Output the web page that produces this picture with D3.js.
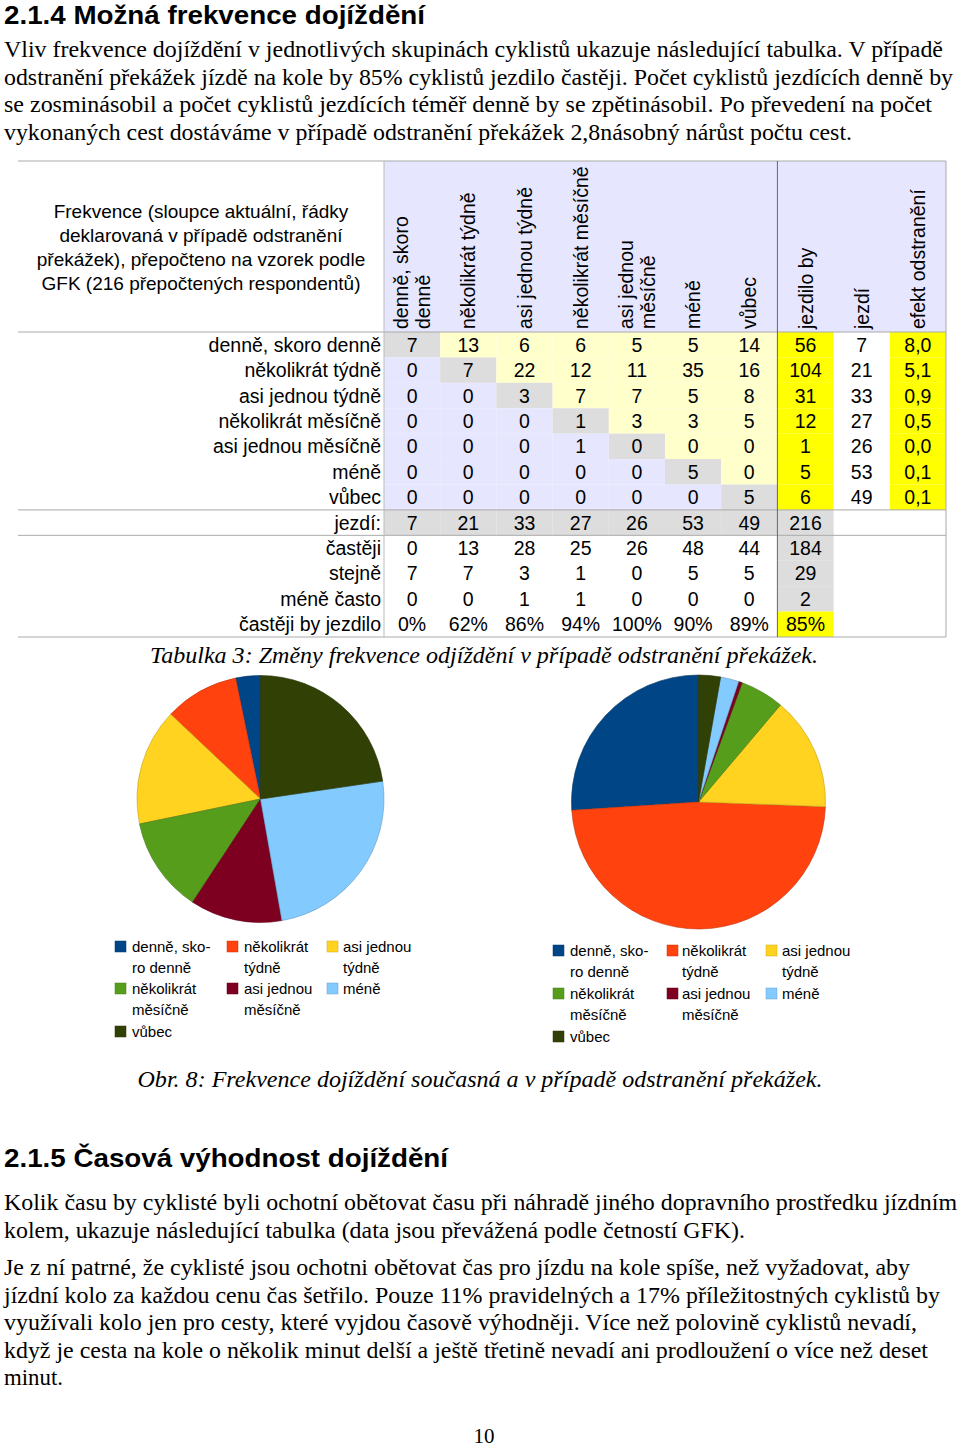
<!DOCTYPE html>
<html><head><meta charset="utf-8">
<script src="https://cdn.jsdelivr.net/npm/d3@7"></script>
<style>body{margin:0;background:#fff}svg{display:block}</style>
</head><body>
<svg id="c" width="960" height="1448"></svg>
<script>
// ---------- DATA ----------
const categories = ["denně, skoro denně","několikrát týdně","asi jednou týdně","několikrát měsíčně","asi jednou měsíčně","méně","vůbec"];
const headerLabels = [["denně, skoro","denně"],["několikrát týdně"],["asi jednou týdně"],["několikrát měsíčně"],["asi jednou","měsíčně"],["méně"],["vůbec"],["jezdilo by"],["jezdí"],["efekt odstranění"]];
const matrix = [
  [7,13,6,6,5,5,14],
  [0,7,22,12,11,35,16],
  [0,0,3,7,7,5,8],
  [0,0,0,1,3,3,5],
  [0,0,0,1,0,0,0],
  [0,0,0,0,0,5,0],
  [0,0,0,0,0,0,5]
];
const jezdiloBy = [56,104,31,12,1,5,6];
const jezdiNyni = [7,21,33,27,26,53,49];
const efekt = ["8,0","5,1","0,9","0,5","0,0","0,1","0,1"];
const jezdiTotal = 216;
const castejiRow = [0,13,28,25,26,48,44,184];
const stejneRow = [7,7,3,1,0,5,5,29];
const meneCastoRow = [0,0,1,1,0,0,0,2];
const castejiByJezdilo = ["0%","62%","86%","94%","100%","90%","89%","85%"];
const summaryLabels = ["jezdí:","častěji","stejně","méně často","častěji by jezdilo"];
const legendLabels = [["denně, sko-","ro denně"],["několikrát","týdně"],["asi jednou","týdně"],["několikrát","měsíčně"],["asi jednou","měsíčně"],["méně"],["vůbec"]];
const pieColors = ["#004586","#ff420e","#ffd320","#579d1c","#7e0021","#83caff","#314004"];
const cornerText = ["Frekvence (sloupce aktuální, řádky","deklarovaná v případě odstranění","překážek), přepočteno na vzorek podle","GFK (216 přepočtených respondentů)"];
const para1 = [
 "Vliv frekvence dojíždění v jednotlivých skupinách cyklistů ukazuje následující tabulka. V případě",
 "odstranění překážek jízdě na kole by 85% cyklistů jezdilo častěji. Počet cyklistů jezdících denně by",
 "se zosminásobil a počet cyklistů jezdících téměř denně by se zpětinásobil. Po převedení na počet",
 "vykonaných cest dostáváme v případě odstranění překážek 2,8násobný nárůst počtu cest."];
const para2 = [
 "Kolik času by cyklisté byli ochotní obětovat času při náhradě jiného dopravního prostředku jízdním",
 "kolem, ukazuje následující tabulka (data jsou převážená podle četností GFK)."];
const para3 = [
 "Je z ní patrné, že cyklisté jsou ochotni obětovat čas pro jízdu na kole spíše, než vyžadovat, aby",
 "jízdní kolo za každou cenu čas šetřilo. Pouze 11% pravidelných a 17% příležitostných cyklistů by",
 "využívali kolo jen pro cesty, které vyjdou časově výhodněji. Více než polovině cyklistů nevadí,",
 "když je cesta na kole o několik minut delší a ještě třetině nevadí ani prodloužení o více než deset",
 "minut."];

// ---------- DRAW ----------
const svg = d3.select("#c");
const SERIF = "'Liberation Serif','Times New Roman',serif";
const SANS = "'Liberation Sans',Arial,sans-serif";
const TFS = 19.5; // table font size

function textLine(x, y, s, opts) {
  const t = svg.append("text").attr("x", x).attr("y", y).text(s)
    .attr("font-family", opts.family || SERIF).attr("font-size", opts.size || 24)
    .attr("fill", "#000");
  if (opts.weight) t.attr("font-weight", opts.weight);
  if (opts.italic) t.attr("font-style", "italic");
  if (opts.anchor) t.attr("text-anchor", opts.anchor);
  if (opts.len) t.attr("textLength", opts.len).attr("lengthAdjust", "spacingAndGlyphs");
  return t;
}

// headings & paragraphs
textLine(4, 24, "2.1.4 Možná frekvence dojíždění", {family: SANS, size: 25, weight: "bold", len: 421});
const p1End = [943, 953, 932, 852];
para1.forEach((s, i) => textLine(4, 57 + i * 27.5, s, {size: 24, len: p1End[i] - 4}));

textLine(4, 1167, "2.1.5 Časová výhodnost dojíždění", {family: SANS, size: 26, weight: "bold", len: 444});
const p2End = [957, 745];
para2.forEach((s, i) => textLine(4, 1210 + i * 27.5, s, {size: 24, len: p2End[i] - 4}));
const p3End = [910, 940, 917, 928, 63];
para3.forEach((s, i) => textLine(4, 1275 + i * 27.5, s, {size: 24, len: p3End[i] - 4}));
textLine(484, 1443, "10", {size: 21, anchor: "middle"});

// ---------- TABLE ----------
const tableLeft = 18, labelRight = 384, tableRight = 946;
const headTop = 161, headBottom = 332, bodyBottom = 637;
const nRows = 12;
const col = d3.scaleBand().domain(d3.range(10)).range([labelRight, tableRight]);
const row = d3.scaleBand().domain(d3.range(nRows)).range([headBottom, bodyBottom]);
const cw = col.bandwidth(), rh = row.bandwidth();

const LAV = "#e6e6ff", GRAY = "#dddddd", LY = "#ffffcc", YEL = "#ffff00";
const g = svg.append("g");
g.append("rect").attr("x", labelRight).attr("y", headTop).attr("width", tableRight - labelRight).attr("height", headBottom - headTop).attr("fill", LAV);

const cells = [];
for (let r = 0; r < 7; r++) {
  for (let c = 0; c < 7; c++) {
    cells.push({r, c, v: matrix[r][c], fill: r === c ? GRAY : (c > r ? LY : LAV)});
  }
  cells.push({r, c: 7, v: jezdiloBy[r], fill: YEL});
  cells.push({r, c: 8, v: jezdiNyni[r], fill: "#fff"});
  cells.push({r, c: 9, v: efekt[r], fill: YEL});
}
const summaryRows = [jezdiNyni.concat([jezdiTotal]), castejiRow, stejneRow, meneCastoRow, castejiByJezdilo];
summaryRows.forEach((vals, k) => {
  const r = 7 + k;
  vals.forEach((v, c) => {
    let fill = "#fff";
    if (k === 0) fill = GRAY;
    else if (c === 7) fill = (k === 4 ? YEL : GRAY);
    cells.push({r, c, v, fill});
  });
});
g.selectAll("rect.cell").data(cells).join("rect").attr("class", "cell")
  .attr("x", d => col(d.c)).attr("y", d => row(d.r)).attr("width", cw).attr("height", rh)
  .attr("fill", d => d.fill);
g.selectAll("text.val").data(cells).join("text").attr("class", "val")
  .attr("x", d => col(d.c) + cw / 2).attr("y", d => row(d.r) + rh / 2 + 7)
  .attr("text-anchor", "middle").attr("font-family", SANS).attr("font-size", TFS)
  .text(d => d.v);

const rowLabels = categories.concat(summaryLabels);
g.selectAll("text.rl").data(rowLabels).join("text").attr("class", "rl")
  .attr("x", labelRight - 3).attr("y", (d, i) => row(i) + rh / 2 + 7)
  .attr("text-anchor", "end").attr("font-family", SANS).attr("font-size", TFS)
  .text(d => d);

headerLabels.forEach((lines, c) => {
  const cx = col(c) + cw / 2;
  const n = lines.length;
  lines.forEach((s, j) => {
    const x = cx + (j - (n - 1) / 2) * 22;
    g.append("text").attr("transform", `translate(${x},${headBottom - 3}) rotate(-90)`)
      .attr("dy", "0.36em").attr("font-family", SANS).attr("font-size", TFS).text(s);
  });
});

cornerText.forEach((s, i) => {
  g.append("text").attr("x", 201).attr("y", 218 + i * 24).attr("text-anchor", "middle")
    .attr("font-family", SANS).attr("font-size", 19).text(s);
});

const hLines = [headTop, headBottom, row(7), row(8), bodyBottom];
g.selectAll("line.h").data(hLines).join("line").attr("class", "h")
  .attr("x1", tableLeft).attr("x2", tableRight).attr("y1", d => d).attr("y2", d => d)
  .attr("stroke", "#aaa").attr("stroke-width", 1);
g.append("line").attr("x1", labelRight).attr("x2", labelRight).attr("y1", headTop).attr("y2", bodyBottom).attr("stroke", "#bbb");
g.append("line").attr("x1", col(7)).attr("x2", col(7)).attr("y1", headTop).attr("y2", bodyBottom).attr("stroke", "#666");
g.append("line").attr("x1", tableRight).attr("x2", tableRight).attr("y1", headTop).attr("y2", bodyBottom).attr("stroke", "#aaa");

textLine(484, 663, "Tabulka 3: Změny frekvence odjíždění v případě odstranění překážek.", {size: 24, italic: true, anchor: "middle", len: 668});

// ---------- PIES ----------
const pie = d3.pie().sort(null).startAngle(0).endAngle(-2 * Math.PI);
function drawPie(values, cx, cy, r) {
  const arc = d3.arc().innerRadius(0).outerRadius(r);
  svg.append("g").attr("transform", `translate(${cx},${cy})`)
    .selectAll("path").data(pie(values)).join("path")
    .attr("d", arc).attr("fill", (d, i) => pieColors[i])
    .attr("stroke", (d, i) => d3.color(pieColors[i]).darker(0.8)).attr("stroke-width", 0.6);
}
drawPie(jezdiNyni, 260.5, 799, 123.5);
drawPie(jezdiloBy, 698.5, 802, 127);

// ---------- LEGENDS ----------
function drawLegend(sqX, txX, rowY) {
  legendLabels.forEach((lines, i) => {
    const cI = i % 3, rI = Math.floor(i / 3);
    const y = rowY[rI];
    svg.append("rect").attr("x", sqX[cI]).attr("y", y - 6).attr("width", 11).attr("height", 11)
      .attr("fill", pieColors[i]).attr("stroke", d3.color(pieColors[i]).darker(0.6)).attr("stroke-width", 0.5);
    lines.forEach((s, j) => {
      svg.append("text").attr("x", txX[cI]).attr("y", y + 5 + j * 21)
        .attr("font-family", SANS).attr("font-size", 15).text(s);
    });
  });
}
drawLegend([115, 227, 327], [132, 244, 343], [947, 989, 1032]);
drawLegend([553, 667, 766], [570, 682, 782], [951, 994, 1037]);

textLine(480, 1087, "Obr. 8: Frekvence dojíždění současná a v případě odstranění překážek.", {size: 24, italic: true, anchor: "middle", len: 685});
</script>
</body></html>
